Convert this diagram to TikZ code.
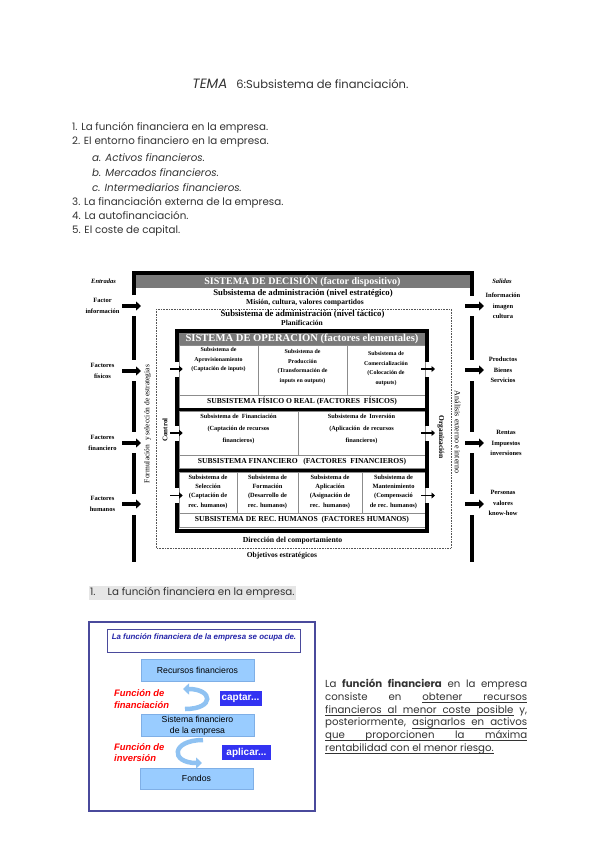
\documentclass[tikz,border=0pt]{standalone}
\usepackage{fontspec}
\setmainfont{Poppins}
\newfontfamily\timesfont{Liberation Serif}
\newfontfamily\arialfont{Liberation Sans}
\usetikzlibrary{arrows.meta,positioning}
\definecolor{inktext}{HTML}{333333}
\definecolor{headgray}{HTML}{7A7A7A}
\definecolor{gridgray}{HTML}{8C8C8C}
\definecolor{dotgray}{HTML}{555555}
\definecolor{markgray}{HTML}{E6E6E6}
\definecolor{frameblue}{HTML}{4A4A9C}
\definecolor{ocupablue}{HTML}{2323A8}
\definecolor{paleblue}{HTML}{99CCFF}
\definecolor{paleline}{HTML}{7FAFE6}
\definecolor{arrowblue}{HTML}{8FC2F2}
\definecolor{verbblue}{HTML}{3333F2}
\definecolor{fnred}{HTML}{FF0000}
\newcommand\fsz[2]{\fontsize{#1}{#2}\selectfont}
\newcommand\pgap{\hskip 0.3em plus 1fil\relax}
\newcommand\ugap{\leaders\hrule height -1.6pt depth 2.1pt\hskip 0.3em plus 1fil\relax}
\newcommand\uword[1]{\setbox0=\hbox{#1}\rlap{\rule[-2.1pt]{\wd0}{0.5pt}}\box0}
\tikzset{
  titletxt/.style={inner sep=0pt,text=inktext,font=\fsz{11.5}{13}},
  listitem/.style={anchor=west,inner sep=0pt,text=inktext,font=\fsz{10.3}{12}},
  subitem/.style={listitem,font=\itshape\fsz{10.3}{12}},
  thickframe/.style={line width=4pt},
  bigarrow/.style={-{Triangle[length=5pt,width=9pt]},line width=3.5pt},
  smallarrow/.style={-{Triangle[length=3.5pt,width=6pt]},line width=1.8pt},
  grayhead/.style={fill=headgray,text=white,inner sep=0pt,font=\timesfont\bfseries\fsz{10}{10}},
  subtit/.style={inner sep=0pt,font=\timesfont\bfseries\fsz{8.7}{9}},
  subsub/.style={inner sep=0pt,font=\timesfont\bfseries\fsz{7.5}{8}},
  sidelabel/.style={inner sep=1pt,align=center,font=\timesfont\bfseries\fsz{6.5}{10.3}},
  rotlabel/.style={inner sep=0pt,font=\timesfont\fsz{7.5}{8}},
  dotbox/.style={dotgray,densely dotted,line width=0.6pt},
  cellbox/.style={draw=gridgray,line width=0.6pt,inner sep=0pt,fill=white},
  celltext/.style={inner sep=0pt,align=center,font=\timesfont\bfseries\fsz{5.9}{9.5}},
  bandbox/.style={cellbox,minimum width=246pt,minimum height=13pt,font=\timesfont\bfseries\fsz{7.6}{8}},
  bluebox/.style={draw=paleline,line width=0.5pt,fill=paleblue,minimum width=113pt,
    minimum height=22pt,align=center,inner sep=0pt,font=\arialfont\fsz{8.7}{11}},
  verbbox/.style={fill=verbblue,text=white,inner sep=0pt,font=\arialfont\bfseries\fsz{10}{10}},
  fnlabel/.style={anchor=west,inner sep=0pt,align=left,text=fnred,
    font=\arialfont\bfseries\itshape\fsz{9.4}{11.5}},
  curvearrow/.style={-{Triangle[length=6pt,width=11pt]},line width=4.5pt,draw=arrowblue},
  parrafo/.style={anchor=north west,inner sep=0pt,align=left,
    text=inktext,font=\fsz{10.2}{12.9}}
}
\begin{document}
\begin{tikzpicture}[x=1pt,y=-1pt]
  \useasboundingbox (0,0) rectangle (600,848);
  \fill[white] (0,0) rectangle (600,848);

  \node[titletxt] (title) at (300.5,84) {{\fsz{13.5}{14}\textit{TEMA}}\hspace{9pt}6:Subsistema de financiación.};
  \node[listitem] (it1) at (72,127.7) {1. La función financiera en la empresa.};
  \node[listitem] (it2) at (72,141.7) {2. El entorno financiero en la empresa.};
  \node[subitem] (it2a) at (92,157.7) {a. Activos financieros.};
  \node[subitem] (it2b) at (92,173) {b. Mercados financieros.};
  \node[subitem] (it2c) at (92,187.3) {c. Intermediarios financieros.};
  \node[listitem] (it3) at (72,202.7) {3. La financiación externa de la empresa.};
  \node[listitem] (it4) at (72,215.7) {4. La autofinanciación.};
  \node[listitem] (it5) at (72,230.7) {5. El coste de capital.};

  \node[sidelabel,font=\timesfont\bfseries\itshape\fsz{6.5}{10}] (entradas) at (103.5,281) {Entradas};
  \node[sidelabel,font=\timesfont\bfseries\itshape\fsz{6.5}{10}] (salidas) at (502,281) {Salidas};
  \node[sidelabel] (finf) at (102.5,306) {Factor\\información};
  \node[sidelabel] (ffis) at (102.5,371) {Factores\\físicos};
  \node[sidelabel] (ffin) at (102.5,443) {Factores\\financiero};
  \node[sidelabel] (fhum) at (102.5,504) {Factores\\humanos};
  \node[sidelabel] (sinf) at (503,306) {Información\\imagen\\cultura};
  \node[sidelabel] (sprod) at (503,370) {Productos\\Bienes\\Servicios};
  \node[sidelabel] (sren) at (506,443) {Rentas\\Impuestos\\inversiones};
  \node[sidelabel] (sper) at (503,503) {Personas\\valores\\know-how};

  \node[grayhead,minimum width=336pt,minimum height=13.5pt] (decision) at (302.5,281.3)
    {SISTEMA DE DECISIÓN (factor dispositivo)};
  \draw[thickframe] (133.5,295) -- (133.5,273) -- (471.5,273) -- (471.5,296);
  \foreach \ya/\yb in {316/360,381/432,453/494,515/562}{
    \draw[thickframe] (133.5,\ya) -- (133.5,\yb);
    \draw[thickframe] (471.5,\ya) -- (471.5,\yb);
  }
  \node[subtit] (estrat) at (303,293.5) {Subsistema de administración (nivel estratégico)};
  \node[subsub] (mision) at (305,302.5) {Misión, cultura, valores compartidos};
  \draw[dotbox] (156,309) rectangle (451,548);
  \node[subtit] (tactico) at (302.5,314.5) {Subsistema de administración (nivel táctico)};
  \node[subsub] (plan) at (302,323.3) {Planificación};

  \node[grayhead,minimum width=247pt,minimum height=13pt,font=\timesfont\bfseries\fsz{10.6}{10}] (operacion) at (302,338)
    {SISTEMA DE OPERACIÓN (factores elementales)};
  \node[cellbox,minimum width=79pt,minimum height=50pt] (c11) at (218.5,370) {};
  \node[cellbox,minimum width=89pt,minimum height=50pt] (c12) at (302.5,370) {};
  \node[cellbox,minimum width=78pt,minimum height=50pt] (c13) at (386,370) {};
  \node[bandbox] (fisico) at (302,401.5) {SUBSISTEMA FÍSICO O REAL (FACTORES\ \ FÍSICOS)};
  \node[cellbox,minimum width=119pt,minimum height=44pt] (c21) at (238.5,433) {};
  \node[cellbox,minimum width=127pt,minimum height=44pt] (c22) at (361.5,433) {};
  \node[bandbox] (financiero) at (302,461.5) {SUBSISTEMA FINANCIERO\ \ \ (FACTORES\ \ FINANCIEROS)};
  \node[cellbox,minimum width=58pt,minimum height=41pt] (c31) at (208,492.5) {};
  \node[cellbox,minimum width=61pt,minimum height=41pt] (c32) at (267.5,492.5) {};
  \node[cellbox,minimum width=64pt,minimum height=41pt] (c33) at (330,492.5) {};
  \node[cellbox,minimum width=63pt,minimum height=41pt] (c34) at (393.5,492.5) {};
  \node[bandbox,minimum height=14pt] (humanos) at (302,520) {SUBSISTEMA DE REC. HUMANOS\ \ (FACTORES HUMANOS)};

  \node[celltext,below=3pt of c11.north] (t11) {Subsistema de\\Aprovisionamiento\\(Captación de inputs)};
  \node[celltext,below=5pt of c12.north] (t12) {Subsistema de\\Producción\\(Transformación de\\inputs en outputs)};
  \node[celltext,below=7pt of c13.north] (t13) {Subsistema de\\Comercialización\\(Colocación de\\outputs)};
  \node[celltext,font=\timesfont\bfseries\fsz{6.3}{12},below=3.5pt of c21.north] (t21)
    {Subsistema de\ \ Financiación\\(Captación de recursos\\financieros)};
  \node[celltext,font=\timesfont\bfseries\fsz{6.3}{12},below=3pt of c22.north] (t22)
    {Subsistema de\ \ Inversión\\(Aplicación\ \ de recursos\\financieros)};
  \node[celltext,font=\timesfont\bfseries\fsz{6.4}{9.3},below=3pt of c31.north] (t31)
    {Subsistema de\\Selección\\(Captación de\\rec. humanos)};
  \node[celltext,font=\timesfont\bfseries\fsz{6.4}{9.3},below=3pt of c32.north] (t32)
    {Subsistema de\\Formación\\(Desarrollo de\\rec. humanos)};
  \node[celltext,font=\timesfont\bfseries\fsz{6.4}{9.3},below=3pt of c33.north] (t33)
    {Subsistema de\\Aplicación\\(Asignación de\\rec.\ \ humanos)};
  \node[celltext,font=\timesfont\bfseries\fsz{6.4}{9.3},below=3pt of c34.north] (t34)
    {Subsistema de\\Mantenimiento\\(Compensació\\de rec. humanos)};

  \draw[thickframe] (177,362) -- (177,330.5) -- (426.5,330.5) -- (426.5,362);
  \foreach \ya/\yb in {377/426,441/488}{
    \draw[thickframe] (177,\ya) -- (177,\yb);
    \draw[thickframe] (426.5,\ya) -- (426.5,\yb);
  }
  \draw[thickframe] (177,503) -- (177,531) -- (426.5,531) -- (426.5,503);
  \draw[thickframe,line width=3pt] (177,409.5) -- (426.5,409.5);
  \draw[thickframe,line width=3pt] (177,470.5) -- (426.5,470.5);

  \coordinate (opin1) at (170,369);
  \coordinate (opin2) at (170,433);
  \coordinate (opin3) at (170,495.5);
  \coordinate (opout1) at (435,369);
  \coordinate (opout2) at (435,433);
  \coordinate (opout3) at (435,495.5);
  \draw[smallarrow,shorten >=-4pt] (opin1) -- (c11.west |- opin1);
  \draw[smallarrow,shorten >=-4pt] (opin2) -- (c21.west |- opin2);
  \draw[smallarrow,shorten >=-4pt] (opin3) -- (c31.west |- opin3);
  \draw[smallarrow,shorten <=-4pt] (c13.east |- opout1) -- (opout1);
  \draw[smallarrow,shorten <=-4pt] (c22.east |- opout2) -- (opout2);
  \draw[smallarrow,shorten <=-4pt] (c34.east |- opout3) -- (opout3);

  \coordinate (inf-tail) at (122,306);
  \coordinate (inf-in) at (141,306);
  \coordinate (fis-tail) at (122,371);
  \coordinate (fis-in) at (141,371);
  \coordinate (fin-tail) at (122,443);
  \coordinate (fin-in) at (141,443);
  \coordinate (hum-tail) at (122,504);
  \coordinate (hum-in) at (141,504);
  \draw[bigarrow] (inf-tail) -- (inf-in);
  \draw[bigarrow] (fis-tail) -- (fis-in);
  \draw[bigarrow] (fin-tail) -- (fin-in);
  \draw[bigarrow] (hum-tail) -- (hum-in);
  \coordinate (inf-out) at (465,306);
  \coordinate (inf-tip) at (484,306);
  \coordinate (prod-out) at (465,370);
  \coordinate (prod-tip) at (484,370);
  \coordinate (ren-out) at (465,443);
  \coordinate (ren-tip) at (484,443);
  \coordinate (per-out) at (465,504);
  \coordinate (per-tip) at (484,504);
  \draw[bigarrow] (inf-out) -- (inf-tip);
  \draw[bigarrow] (prod-out) -- (prod-tip);
  \draw[bigarrow] (ren-out) -- (ren-tip);
  \draw[bigarrow] (per-out) -- (per-tip);

  \node[rotlabel,rotate=90] (formul) at (147.5,424) {Formulación\ \ y selección de estrategias};
  \node[rotlabel,rotate=90,font=\timesfont\bfseries\fsz{7}{7}] (control) at (165,430) {Control};
  \node[rotlabel,rotate=-90,font=\timesfont\bfseries\fsz{7.5}{8}] (organiz) at (441,437) {Organización};
  \node[rotlabel,rotate=-90,font=\timesfont\fsz{8}{8}] (analisis) at (457.5,432) {Análisis externo e interno};
  \node[subsub,font=\timesfont\bfseries\fsz{7.7}{8}] (direccion) at (292.5,541) {Dirección del comportamiento};
  \node[subsub,font=\timesfont\bfseries\fsz{7.5}{8}] (objetivos) at (282,555.5) {Objetivos estratégicos};

  \node[listitem,fill=markgray,inner ysep=1.5pt,inner xsep=1pt] (sec1) at (89,593)
    {1.\hspace{12pt}La función financiera en la empresa.};

  \node[draw=frameblue,line width=2pt,minimum width=226pt,minimum height=189pt] (marco) at (202,716.5) {};
  \node[draw=frameblue,line width=0.6pt,minimum width=193pt,minimum height=23pt] (ocupa) at (204,641) {};
  \node[inner sep=0pt,text=ocupablue,font=\arialfont\bfseries\itshape\fsz{7.9}{8},below=4.5pt of ocupa.north] (ocupatxt)
    {La función financiera de la empresa se ocupa de.};
  \node[bluebox] (recursos) at (197.5,670) {Recursos financieros};
  \node[bluebox] (sistfin) at (197.5,725.5) {Sistema financiero\\de la empresa};
  \node[bluebox,minimum height=21pt] (fondos) at (196.5,778.5) {Fondos};
  \node[verbbox,minimum width=42pt,minimum height=15pt] (captar) at (240.5,698.5) {captar...};
  \node[verbbox,minimum width=49pt,minimum height=15pt] (aplicar) at (246.5,752.5) {aplicar...};
  \node[fnlabel] (fnfin) at (114,699) {Función de\\financiación};
  \node[fnlabel] (fninv) at (114,752.5) {Función de\\inversión};
  \coordinate (capt-a) at (185,709);
  \coordinate (capt-b) at (183,689);
  \coordinate (apl-a) at (203,740);
  \coordinate (apl-b) at (202,763);
  \draw[curvearrow] (capt-a) .. controls +(30,0) and +(30,0) .. (capt-b);
  \draw[curvearrow] (apl-a) .. controls +(-32,0) and +(-32,0) .. (apl-b);

  \node[parrafo] (texto) at (325,678.5) {%
    \hbox to 202pt{La\pgap\textbf{función}\pgap\textbf{financiera}\pgap en\pgap la\pgap empresa}\\
    \hbox to 202pt{consiste\pgap en\pgap\uword{obtener}\ugap\uword{recursos}}\\
    \hbox to 202pt{\uword{financieros}\ugap\uword{al}\ugap\uword{menor}\ugap\uword{coste}\ugap\uword{posible}\pgap y,}\\
    \hbox to 202pt{posteriormente,\pgap\uword{asignarlos}\ugap\uword{en}\ugap\uword{activos}}\\
    \hbox to 202pt{\uword{que}\ugap\uword{proporcionen}\ugap\uword{la}\ugap\uword{máxima}}\\
    \uword{rentabilidad con el menor riesgo.}};
\end{tikzpicture}
\end{document}
